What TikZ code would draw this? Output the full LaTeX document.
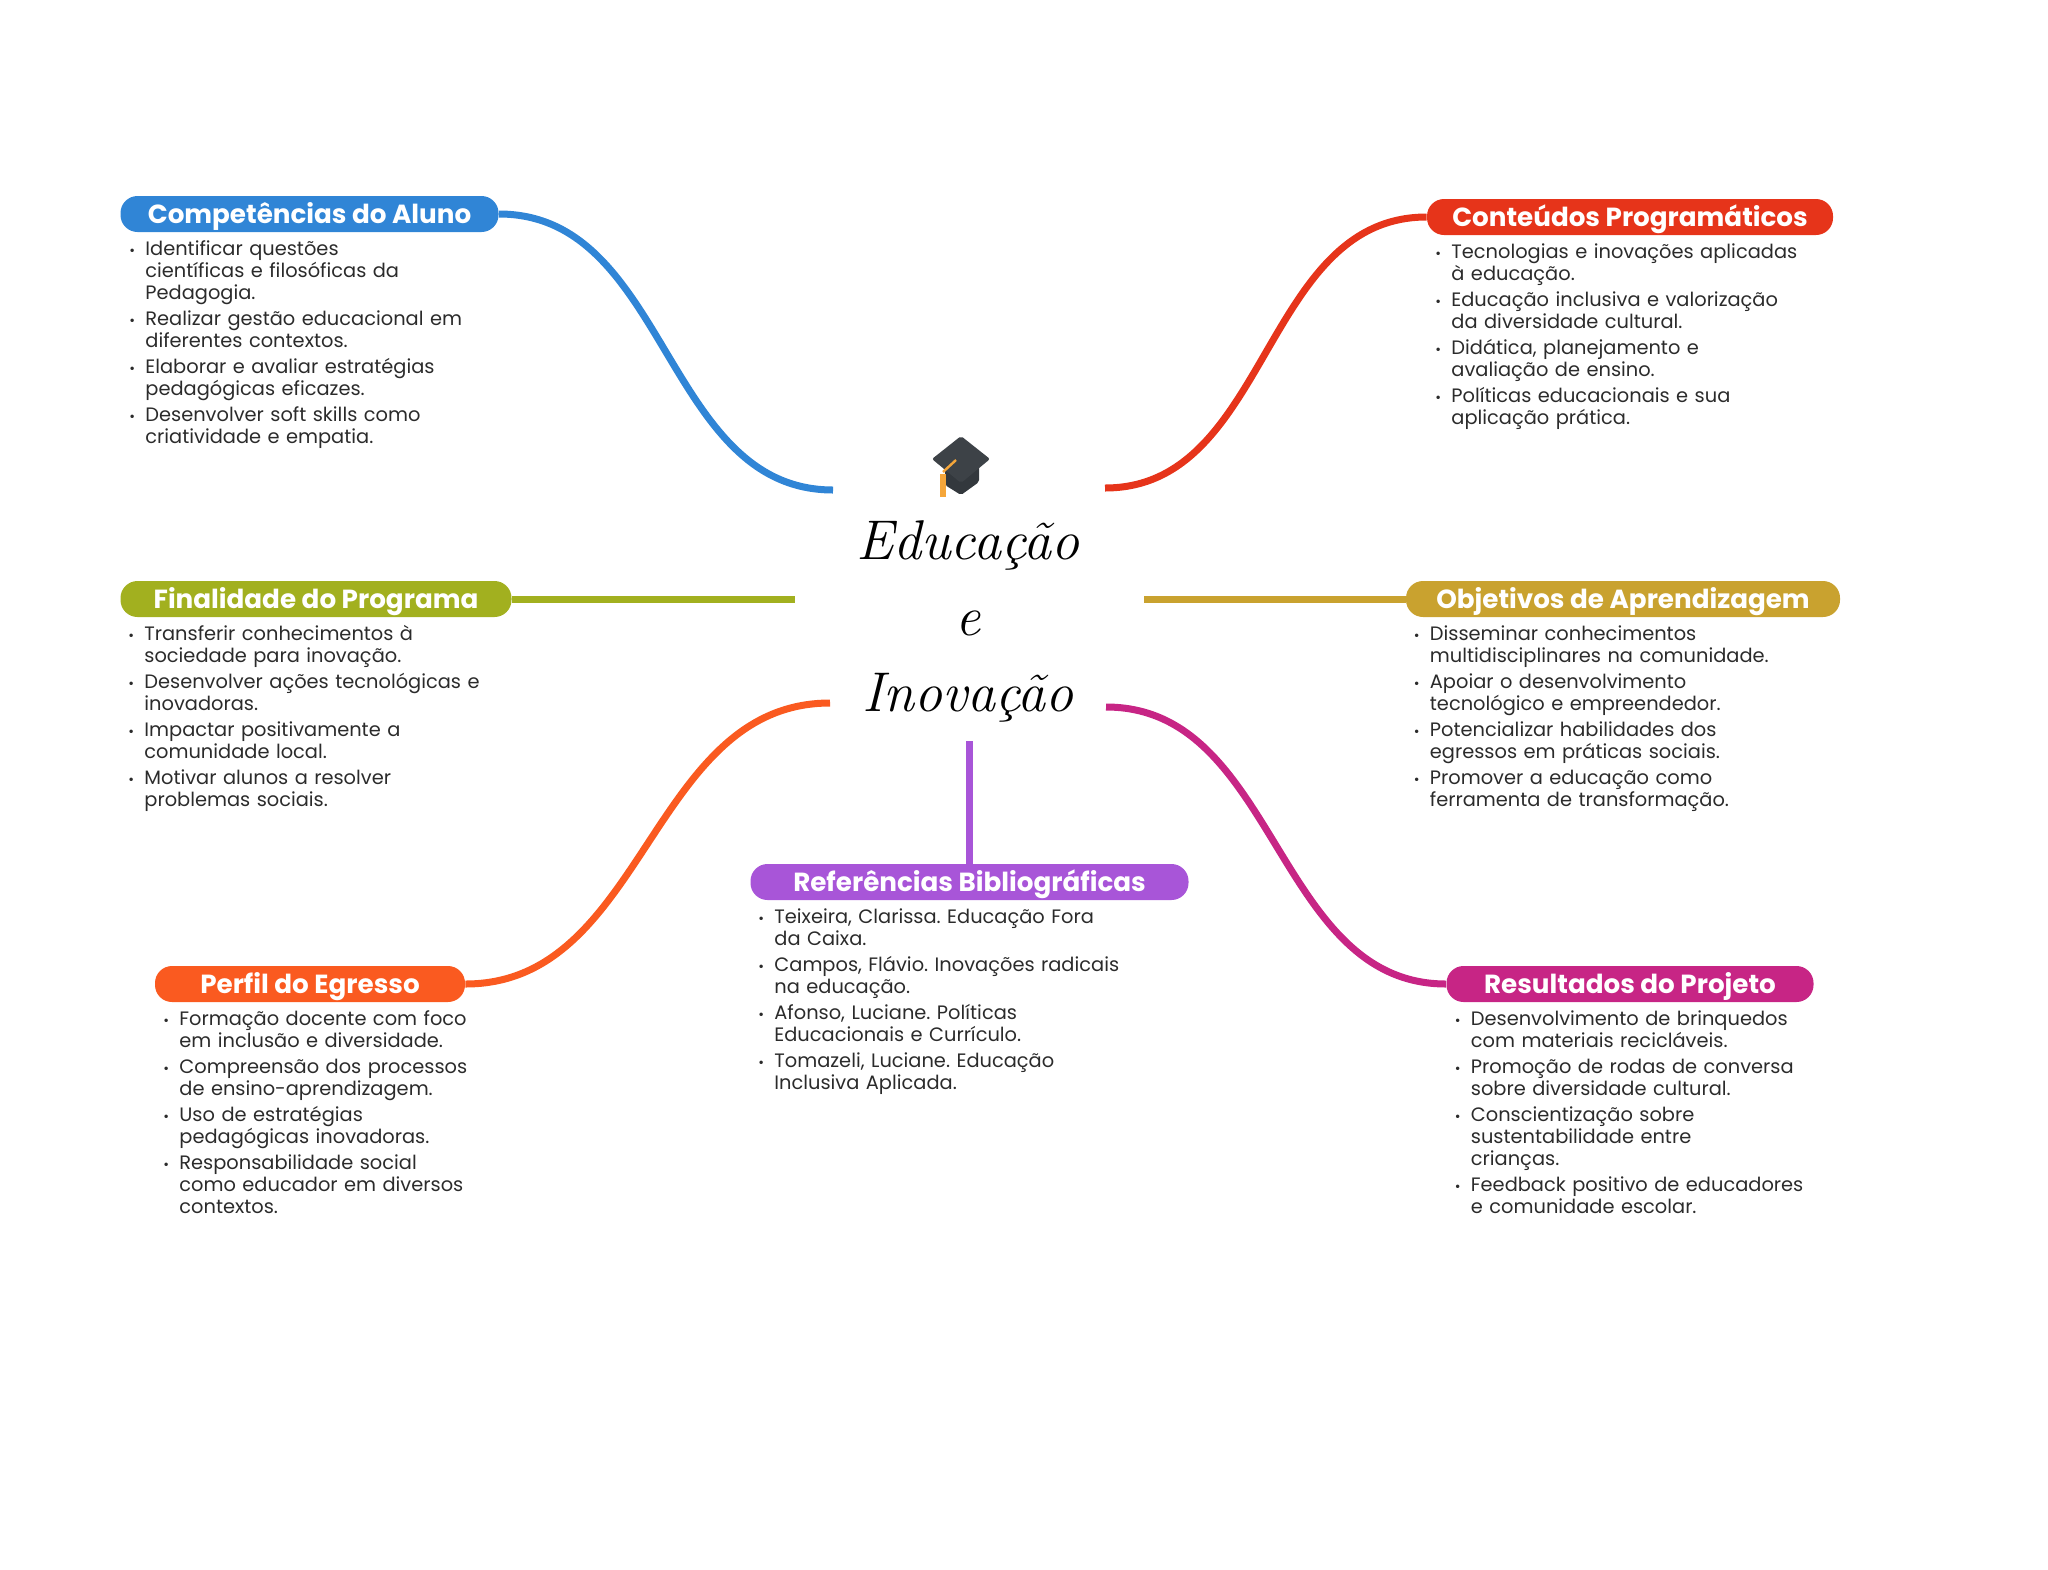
\documentclass[tikz,border=0pt]{standalone}
\usepackage{fontspec}
\setmainfont{Poppins}
\newfontfamily\titlefont{Latin Modern Roman}
\usepackage{xcolor}
\definecolor{bluecomp}{HTML}{3085D6}
\definecolor{redcont}{HTML}{E6341A}
\definecolor{olivefin}{HTML}{A2B01F}
\definecolor{goldobj}{HTML}{C9A22F}
\definecolor{orangeperf}{HTML}{FA5A20}
\definecolor{magres}{HTML}{C72585}
\definecolor{purpref}{HTML}{A855D8}
\definecolor{body}{HTML}{2B2B2B}
\definecolor{capdark}{HTML}{33383D}
\definecolor{capboard}{HTML}{3D4247}
\definecolor{captassel}{HTML}{F5A63A}
\newcommand{\itm}[1]{\parskip=1pt\relax\lineskiplimit=-20pt\relax\frenchspacing\noindent\makebox[8pt][l]{\fontsize{7}{7}\selectfont •}\parbox[t]{190pt}{\raggedright\rule{0pt}{8pt}#1\rule[-4pt]{0pt}{4pt}}\par\nointerlineskip}
\tikzset{
  pill/.style={rounded corners=8.5pt, minimum height=18pt, inner sep=0pt, text=white,
    text height=11pt, text depth=1.7pt, font=\fontsize{13.1}{13}\selectfont\bfseries},
  link/.style={line width=3.5pt},
  listbox/.style={anchor=north west, inner sep=0pt, text width=200pt, align=left, text=body,
    font=\fontsize{9.7}{11}\selectfont}
}
\begin{document}
\begin{tikzpicture}[x=0.5pt,y=-0.5pt]
  \useasboundingbox (0,0) rectangle (2048,1569);
  % central title
  \node[inner sep=0pt, align=center, text=black, font=\titlefont\itshape\fontsize{28}{38}\selectfont] (title) at (968,621) {Educação\\e\\Inovação};
  % cap
  \fill[capdark, rounded corners=1pt] (945,462) -- (945,485) -- (961,495) -- (979,482) -- (979,462) -- cycle;
  \fill[capboard, rounded corners=1pt] (961,436) -- (990,459) -- (961,483) -- (932,459) -- cycle;
  \draw[captassel, line width=1.2pt] (956,460) -- (943,472);
  \draw[captassel, line width=3pt] (943,474) -- (943,497);
  % branches
  \node[pill, fill=bluecomp, minimum width=189pt] (comp) at (309.5,214) {Competências do Aluno};
  \node[pill, fill=redcont, minimum width=203pt] (cont) at (1630,217) {Conteúdos Programáticos};
  \node[pill, fill=olivefin, minimum width=195.5pt] (fin) at (316,599) {Finalidade do Programa};
  \node[pill, fill=goldobj, minimum width=217pt] (obj) at (1623,599) {Objetivos de Aprendizagem};
  \node[pill, fill=orangeperf, minimum width=155pt] (perf) at (310,984) {Perfil do Egresso};
  \node[pill, fill=magres, minimum width=183.5pt] (res) at (1630,984) {Resultados do Projeto};
  \node[pill, fill=purpref, minimum width=219pt] (ref) at (969.5,882) {Referências Bibliográficas};
  % connectors
  \coordinate (endcomp) at (833,490);
  \coordinate (endcont) at (1105,488);
  \coordinate (endfin) at (795,599);
  \coordinate (endobj) at (1144,599);
  \coordinate (endperf) at (830,703);
  \coordinate (endres) at (1106,707);
  \coordinate (endref) at (969.5,741);
  \draw[link, bluecomp] (comp.east) to[out=0,in=180] (endcomp);
  \draw[link, redcont] (cont.west) to[out=180,in=0] (endcont);
  \draw[link, olivefin] (fin.east) -- (endfin);
  \draw[link, goldobj] (obj.west) -- (endobj);
  \draw[link, orangeperf] (perf.east) to[out=0,in=180] (endperf);
  \draw[link, magres] (res.west) to[out=180,in=0] (endres);
  \draw[link, purpref] (ref.north) -- (endref);
  % lists
  \node[listbox] (listcomp) at (129,239) {
    \itm{Identificar questões\\científicas e filosóficas da\\Pedagogia.}
    \itm{Realizar gestão educacional em\\diferentes contextos.}
    \itm{Elaborar e avaliar estratégias\\pedagógicas eficazes.}
    \itm{Desenvolver soft skills como\\criatividade e empatia.}};
  \node[listbox] (listcont) at (1435,242) {
    \itm{Tecnologias e inovações aplicadas\\à educação.}
    \itm{Educação inclusiva e valorização\\da diversidade cultural.}
    \itm{Didática, planejamento e\\avaliação de ensino.}
    \itm{Políticas educacionais e sua\\aplicação prática.}};
  \node[listbox] (listfin) at (128,624) {
    \itm{Transferir conhecimentos à\\sociedade para inovação.}
    \itm{Desenvolver ações tecnológicas e\\inovadoras.}
    \itm{Impactar positivamente a\\comunidade local.}
    \itm{Motivar alunos a resolver\\problemas sociais.}};
  \node[listbox] (listobj) at (1413.5,624) {
    \itm{Disseminar conhecimentos\\multidisciplinares na comunidade.}
    \itm{Apoiar o desenvolvimento\\tecnológico e empreendedor.}
    \itm{Potencializar habilidades dos\\egressos em práticas sociais.}
    \itm{Promover a educação como\\ferramenta de transformação.}};
  \node[listbox] (listperf) at (163,1009) {
    \itm{Formação docente com foco\\em inclusão e diversidade.}
    \itm{Compreensão dos processos\\de ensino-aprendizagem.}
    \itm{Uso de estratégias\\pedagógicas inovadoras.}
    \itm{Responsabilidade social\\como educador em diversos\\contextos.}};
  \node[listbox] (listres) at (1454.5,1009) {
    \itm{Desenvolvimento de brinquedos\\com materiais recicláveis.}
    \itm{Promoção de rodas de conversa\\sobre diversidade cultural.}
    \itm{Conscientização sobre\\sustentabilidade entre\\crianças.}
    \itm{Feedback positivo de educadores\\e comunidade escolar.}};
  \node[listbox] (listref) at (758,907) {
    \itm{Teixeira, Clarissa. Educação Fora\\da Caixa.}
    \itm{Campos, Flávio. Inovações radicais\\na educação.}
    \itm{Afonso, Luciane. Políticas\\Educacionais e Currículo.}
    \itm{Tomazeli, Luciane. Educação\\Inclusiva Aplicada.}};
\end{tikzpicture}
\end{document}
